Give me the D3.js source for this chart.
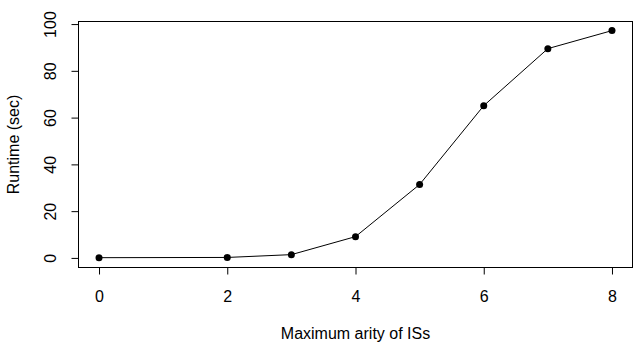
<!DOCTYPE html>
<html><head><meta charset="utf-8">
<script src="https://cdn.jsdelivr.net/npm/d3@7"></script>
<style>body{margin:0;background:#fff}svg{display:block}text{font-family:"Liberation Sans",Arial,sans-serif;fill:#000}</style>
</head><body>
<script>
const arity = [0, 2, 3, 4, 5, 6, 7, 8];
const runtime = [0.1, 0.2, 1.4, 9.1, 31.4, 65.1, 89.5, 97.2];
const xTicks = [0, 2, 4, 6, 8];
const yTicks = [0, 20, 40, 60, 80, 100];
const xLabel = "Maximum arity of ISs";
const yLabel = "Runtime (sec)";

const W = 643, H = 348;
const L = 78.5, R = 632.5, T = 21.5, B = 267.5;
const svg = d3.select("body").append("svg").attr("width", W).attr("height", H);
const x = d3.scaleLinear().domain([-0.32, 8.32]).range([L, R]);
const y = d3.scaleLinear().domain([-4.1, 101.1]).range([B, T]);

svg.append("rect").attr("x", L).attr("y", T).attr("width", R - L).attr("height", B - T)
  .attr("fill", "none").attr("stroke", "#000").attr("stroke-width", 1);

const xa = svg.append("g").attr("transform", `translate(0,${B})`)
  .call(d3.axisBottom(x).tickValues(xTicks).tickFormat(d3.format("d")).tickSize(7).tickPadding(16));
xa.select(".domain").remove();
xa.selectAll("text").style("font-size", "16px");

const ya = svg.append("g").attr("transform", `translate(${L},0)`)
  .call(d3.axisLeft(y).tickValues(yTicks).tickFormat(d3.format("d")).tickSize(7).tickPadding(0));
ya.select(".domain").remove();
ya.selectAll("text").style("font-size", "16px")
  .attr("x", 0).attr("y", 0).attr("dy", 0)
  .attr("text-anchor", "middle")
  .attr("transform", "translate(-22.5,0) rotate(-90)");

svg.append("text").attr("x", (L + R) / 2).attr("y", 338.5).attr("text-anchor", "middle")
  .style("font-size", "16px").text(xLabel);
svg.append("text").attr("transform", `translate(19,${(T + B) / 2}) rotate(-90)`)
  .attr("text-anchor", "middle").style("font-size", "16px").text(yLabel);

const pts = arity.map((a, i) => [a, runtime[i]]);
svg.append("path").datum(pts)
  .attr("d", d3.line().x(d => x(d[0])).y(d => y(d[1])))
  .attr("fill", "none").attr("stroke", "#000").attr("stroke-width", 1);
svg.selectAll("circle.pt").data(pts).enter().append("circle")
  .attr("cx", d => x(d[0])).attr("cy", d => y(d[1])).attr("r", 3.5).attr("fill", "#000");
</script>
</body></html>
